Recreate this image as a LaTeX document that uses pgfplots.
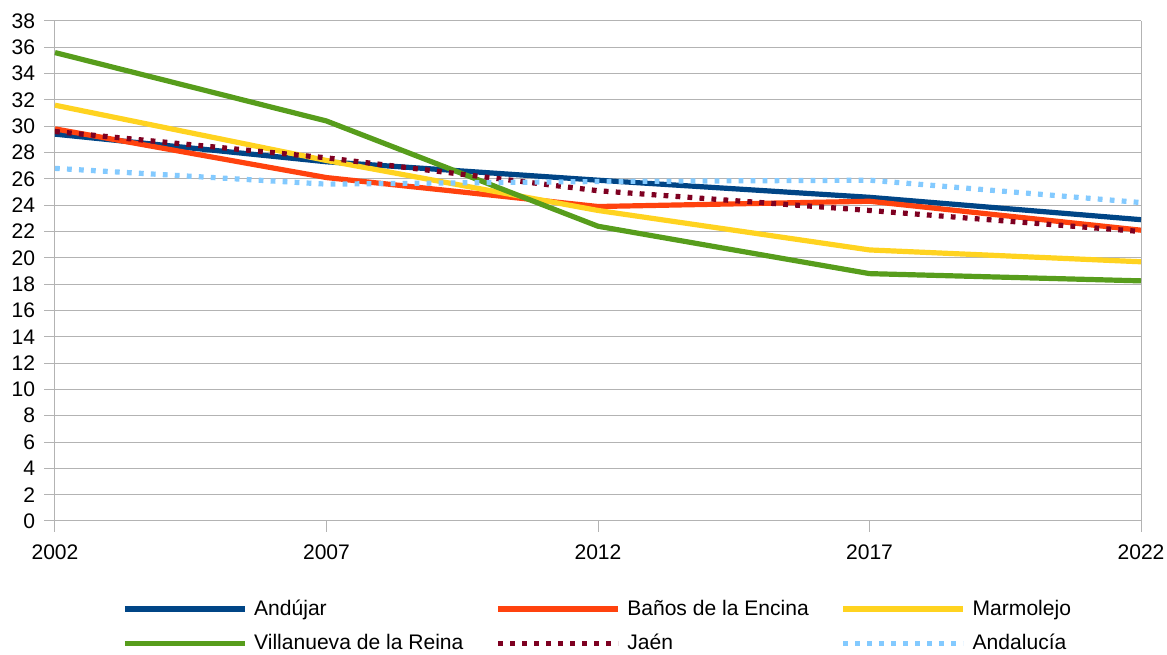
\documentclass[border=0pt]{standalone}
\usepackage{pgfplots}
\pgfplotsset{compat=1.18}
\usepackage{fontspec}
\setmainfont{Liberation Sans}
\definecolor{cAnd}{HTML}{004586}
\definecolor{cBan}{HTML}{FF420E}
\definecolor{cMar}{HTML}{FFD320}
\definecolor{cVil}{HTML}{579D1C}
\definecolor{cJae}{HTML}{7E0021}
\definecolor{cAnda}{HTML}{83CAFF}
\definecolor{cGrid}{HTML}{B3B3B3}
\begin{document}
\fontsize{15.8}{18}\selectfont
\begin{tikzpicture}
\begin{axis}[
  scale only axis,
  width=814.5pt, height=375pt,
  xmin=2002, xmax=2022, ymin=0, ymax=38,
  xtick={2002,2007,2012,2017,2022},
  ytick={0,2,...,38},
  xticklabel style={/pgf/number format/1000 sep={}, yshift=-4.5pt},
  yticklabel style={xshift=-1.5pt},
  /pgf/number format/assume math mode=true,
  ticklabel style={font=\fontsize{15.8}{18}\selectfont},
  tick align=outside,
  major tick length=8pt,
  tick style={cGrid, line width=0.75pt},
  axis line style={cGrid, line width=0.75pt},
  ymajorgrids, grid style={cGrid, line width=0.75pt},
  axis x line*=bottom,
  axis y line*=left,
  clip=false,
  every axis plot/.append style={line width=3.9pt, line join=round},
  legend columns=3,
  legend style={draw=none, at={(0.5,-0.149)}, anchor=north,
    font=\fontsize{15.8}{18}\selectfont,
    /tikz/every even column/.append style={column sep=22pt},
    row sep=7.5pt, inner sep=1pt},
  legend cell align=left,
  legend image code/.code={\draw[#1] (0pt,0pt) -- (90pt,0pt); \path (93pt,0pt);},
]
\draw[cGrid, line width=0.75pt] (axis cs:2022,0) -- (axis cs:2022,38);
\addplot[cAnd] coordinates {(2002,29.4) (2007,27.3) (2012,25.9) (2017,24.6) (2022,22.9)};
\addlegendentry{Andújar}
\addplot[cBan] coordinates {(2002,29.8) (2007,26.1) (2012,23.9) (2017,24.3) (2022,22.1)};
\addlegendentry{Baños de la Encina}
\addplot[cMar] coordinates {(2002,31.6) (2007,27.4) (2012,23.6) (2017,20.6) (2022,19.7)};
\addlegendentry{Marmolejo}
\addplot[cVil] coordinates {(2002,35.6) (2007,30.4) (2012,22.4) (2017,18.8) (2022,18.25)};
\addlegendentry{Villanueva de la Reina}
\addplot[cJae, line cap=butt, dash pattern=on 3.6pt off 5.4pt] coordinates {(2002,29.6) (2007,27.6) (2012,25.1) (2017,23.6) (2022,22.0)};
\addlegendentry{Jaén}
\addplot[cAnda, line cap=butt, dash pattern=on 3.6pt off 5.4pt] coordinates {(2002,26.8) (2007,25.6) (2012,25.8) (2017,25.9) (2022,24.2)};
\addlegendentry{Andalucía}
\end{axis}
\pgfresetboundingbox
\path ([shift={(-41.25pt,-100.5pt)}]current axis.south west) rectangle ([shift={(19.5pt,15.75pt)}]current axis.north east);
\end{tikzpicture}
\end{document}
